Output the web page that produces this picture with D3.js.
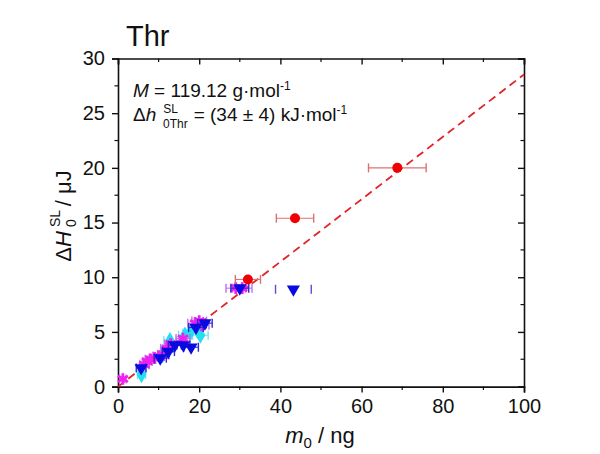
<!DOCTYPE html>
<html><head><meta charset="utf-8">
<script src="https://cdn.jsdelivr.net/npm/d3@7"></script>
<style>body{margin:0;background:#fff}svg{display:block}text{font-family:"Liberation Sans",Arial,sans-serif;fill:#111}</style>
</head><body>
<svg id="c" width="600" height="454"></svg>
<script>
// Data
const redX = [32.0, 43.6, 68.8];
const redY = [9.8, 15.4, 20.0];
const redErr = [3.1, 4.6, 7.1];

const blueX = [5.7, 10.4, 12.4, 14.0, 16.1, 18.0, 19.2, 21.4, 30.0, 43.2];
const blueY = [1.7, 2.6, 3.2, 3.8, 3.8, 3.6, 5.4, 5.8, 9.0, 8.9];
const blueErr = [1.2, 1.5, 1.5, 1.6, 1.6, 1.8, 1.8, 1.8, 2.2, 4.4];

const magX = [1.2, 6.5, 7.2, 8.0, 9.0, 10.0, 11.2, 12.0, 13.0, 16.0, 19.0, 20.0, 20.6, 29.0, 30.6];
const magY = [0.7, 2.0, 2.3, 2.5, 2.6, 2.8, 2.9, 3.5, 3.9, 4.4, 5.8, 6.0, 5.6, 9.0, 9.0];
const magErr = [0.8, 1.2, 1.2, 1.3, 1.3, 1.4, 1.4, 1.5, 1.5, 1.7, 1.8, 1.8, 1.8, 2.4, 2.4];

const cyanX = [5.8, 11.0, 12.8, 16.5, 17.7, 20.3];
const cyanY = [1.1, 2.9, 4.2, 4.7, 4.9, 4.7];
const cyanErr = [1.0, 1.3, 1.5, 1.6, 1.7, 1.9];

const fitSlope = 34 / 119.12;
const xTicks = [0, 20, 40, 60, 80, 100];
const yTicks = [0, 5, 10, 15, 20, 25, 30];

const svg = d3.select("#c");
const L = 118, R = 524, T = 58.5, B = 386.6;
const x = d3.scaleLinear().domain([0, 100]).range([L, R]);
const y = d3.scaleLinear().domain([0, 30]).range([B, T]);

// axes
const axB = d3.axisBottom(x).tickValues(xTicks).tickSize(6).tickPadding(6).tickFormat(d3.format("d"));
const axL = d3.axisLeft(y).tickValues(yTicks).tickSize(6).tickPadding(7).tickFormat(d3.format("d"));
const axT = d3.axisBottom(x).tickValues(xTicks).tickSize(6).tickFormat("");
const axR = d3.axisLeft(y).tickValues(yTicks).tickSize(6).tickFormat("");
const minorX = d3.range(10, 100, 20), minorY = d3.range(2.5, 30, 5);

function styleAxis(g){ g.select(".domain").attr("stroke","#111").attr("stroke-width",1.6);
  g.selectAll(".tick line").attr("stroke","#111").attr("stroke-width",1.4);
  g.selectAll(".tick text").attr("font-size",20).attr("fill","#111").attr("font-family","Liberation Sans, Arial, sans-serif"); }

svg.append("g").attr("transform",`translate(0,${B})`).call(axB).call(styleAxis);
svg.append("g").attr("transform",`translate(${L},0)`).call(axL).call(styleAxis);
svg.append("g").attr("transform",`translate(0,${T})`).call(axT).call(styleAxis);
svg.append("g").attr("transform",`translate(${R},0)`).call(axR).call(styleAxis);
// minor ticks
const mg = svg.append("g").attr("stroke","#111").attr("stroke-width",1.2);
minorX.forEach(v=>{ mg.append("line").attr("x1",x(v)).attr("x2",x(v)).attr("y1",B).attr("y2",B+3.5);
  mg.append("line").attr("x1",x(v)).attr("x2",x(v)).attr("y1",T).attr("y2",T+3.5); });
minorY.forEach(v=>{ mg.append("line").attr("y1",y(v)).attr("y2",y(v)).attr("x1",L).attr("x2",L-3.5);
  mg.append("line").attr("y1",y(v)).attr("y2",y(v)).attr("x1",R).attr("x2",R-3.5); });

// fit line
svg.append("line").attr("x1",x(0)).attr("y1",y(0)).attr("x2",x(100)).attr("y2",y(100*fitSlope))
  .attr("stroke","#e0242a").attr("stroke-width",1.8).attr("stroke-dasharray","8,5");

// error bars + markers
function series(xs, ys, es, barColor, drawLine, markerFn){
  const g = svg.append("g");
  xs.forEach((xv,i)=>{
    const yy = y(ys[i]), x1 = x(xv-es[i]), x2 = x(xv+es[i]);
    if(drawLine) g.append("line").attr("x1",x1).attr("x2",x2).attr("y1",yy).attr("y2",yy).attr("stroke",barColor).attr("stroke-width",1.1);
    [x1,x2].forEach(xx=>g.append("line").attr("x1",xx).attr("x2",xx).attr("y1",yy-4.5).attr("y2",yy+4.5).attr("stroke",barColor).attr("stroke-width",1.4));
  });
  xs.forEach((xv,i)=>markerFn(g, x(xv), y(ys[i])));
}
series(cyanX, cyanY, cyanErr, "#6fe6f0", true, (g,cx,cy)=>g.append("path").attr("d",d3.symbol().type(d3.symbolDiamond).size(85)()).attr("transform",`translate(${cx},${cy})`).attr("fill","#22e0f0"));
series(magX, magY, magErr, "#c070e8", true, (g,cx,cy)=>g.append("path").attr("d",d3.symbol().type(d3.symbolAsterisk).size(95)()).attr("transform",`translate(${cx},${cy})`).attr("fill","none").attr("stroke","#f020f0").attr("stroke-width",2.8));
series(blueX.slice(0,9), blueY.slice(0,9), blueErr.slice(0,9), "#2b2bd0", true, (g,cx,cy)=>g.append("path").attr("d",d3.symbol().type(d3.symbolTriangle).size(75)()).attr("transform",`translate(${cx},${cy}) rotate(180)`).attr("fill","#0a0ae0"));
series(blueX.slice(9), blueY.slice(9), blueErr.slice(9), "#5050d8", false, (g,cx,cy)=>g.append("path").attr("d",d3.symbol().type(d3.symbolTriangle).size(75)()).attr("transform",`translate(${cx},${cy}) rotate(180)`).attr("fill","#0a0ae0"));
series(redX, redY, redErr, "#e07070", true, (g,cx,cy)=>g.append("circle").attr("cx",cx).attr("cy",cy).attr("r",5).attr("fill","#f00000"));

// title
svg.append("text").attr("x",126).attr("y",46).attr("font-size",29).text("Thr");

// annotations
const a1 = svg.append("text").attr("x",133).attr("y",97).attr("font-size",19);
a1.append("tspan").attr("font-style","italic").text("M");
a1.append("tspan").text(" = 119.12 g\u00b7mol");
a1.append("tspan").attr("font-size",12).attr("dy",-7).text("-1");

const a2 = svg.append("text").attr("x",133).attr("y",121).attr("font-size",19);
a2.append("tspan").text("\u0394");
a2.append("tspan").attr("font-style","italic").text("h");
a2.append("tspan").attr("font-size",12).attr("dx",7).attr("dy",-8).text("SL");
a2.append("tspan").attr("font-size",12).attr("dx",-15).attr("dy",15).text("0Thr");
a2.append("tspan").attr("dy",-7).attr("dx",6).text("= (34 \u00b1 4) kJ\u00b7mol");
a2.append("tspan").attr("font-size",12).attr("dy",-7).text("-1");

// x label
const xl = svg.append("text").attr("x",320).attr("y",443).attr("font-size",22).attr("text-anchor","middle");
xl.append("tspan").attr("font-style","italic").text("m");
xl.append("tspan").attr("font-size",15).attr("dy",5).text("0");
xl.append("tspan").attr("dy",-5).text(" / ng");

// y label
const yl = svg.append("text").attr("transform",`translate(71,216) rotate(-90)`).attr("font-size",22).attr("text-anchor","middle");
yl.append("tspan").text("\u0394");
yl.append("tspan").attr("font-style","italic").text("H");
yl.append("tspan").attr("font-size",14).attr("dx",4).attr("dy",-11).text("SL");
yl.append("tspan").attr("font-size",14).attr("dx",-17).attr("dy",16).text("0");
yl.append("tspan").attr("dy",-5).attr("dx",13).text("/ \u03bcJ");
</script>
</body></html>
